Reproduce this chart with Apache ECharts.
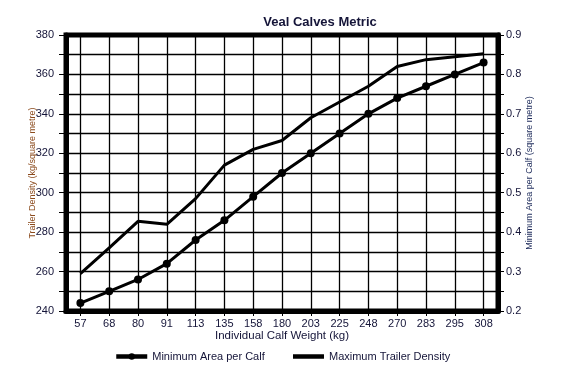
<!DOCTYPE html>
<html>
<head>
<meta charset="utf-8">
<script src="https://cdn.jsdelivr.net/npm/echarts@6/dist/echarts.min.js"></script>
<style>html,body{margin:0;padding:0;background:#fff}#c{width:571px;height:389px}</style>
</head>
<body>
<div id="c"></div>
<script>
var categories = ['57','68','80','91','113','135','158','180','203','225','248','270','283','295','308'];
var minAreaPerCalf = [0.22,0.25,0.28,0.32,0.38,0.43,0.49,0.55,0.60,0.65,0.70,0.74,0.77,0.80,0.83];
var maxTrailerDensity = [259,272,285.5,284,297,314,322,326.5,338,346,354,364,367.5,369,370.5];

var navy = '#141438';
var chart = echarts.init(document.getElementById('c'), null, {renderer:'canvas'});
chart.setOption({
  animation: false,
  title: {
    text: 'Veal Calves Metric', left: 315, top: 11, textAlign: 'center',
    textStyle: {fontFamily: 'Liberation Sans', fontSize: 13, fontWeight: 'bold', color: navy}
  },
  legend: {
    left: 109, top: 346, itemGap: 26, itemWidth: 31, itemHeight: 8,
    lineStyle: {width: 4.5},
    textStyle: {fontFamily: 'Liberation Sans', fontSize: 11, color: navy},
    data: [{name: 'Minimum Area per Calf'}, {name: 'Maximum Trailer Density', itemStyle: {opacity: 0}}]
  },
  grid: {left: 66, right: 73, top: 35, bottom: 78, show: true, borderColor: '#000', borderWidth: 5, containLabel: false, z: 10},
  xAxis: {
    type: 'category', data: categories,
    name: 'Individual Calf Weight (kg)', nameLocation: 'middle', nameGap: 19, nameMoveOverlap: false,
    nameTextStyle: {fontFamily: 'Liberation Sans', fontSize: 11.5, color: navy},
    axisLine: {show: true, lineStyle: {color: '#000', width: 5}},
    axisTick: {show: true, alignWithLabel: true, length: 5, lineStyle: {color: '#000', width: 1}},
    axisLabel: {fontFamily: 'Liberation Sans', fontSize: 11, color: navy, margin: 7},
    splitLine: {show: true, alignWithLabel: true, lineStyle: {color: '#000', width: 1.3}}
  },
  yAxis: [{
    type: 'value', min: 240, max: 380, interval: 10, position: 'left',
    name: 'Trailer Density (kg/square metre)', nameLocation: 'middle', nameGap: 29, nameRotate: 90, nameMoveOverlap: false,
    nameTextStyle: {fontFamily: 'Liberation Sans', fontSize: 9, color: '#8b4a1c'},
    axisLine: {show: true, lineStyle: {color: '#000', width: 5}},
    axisTick: {show: true, length: 7, lineStyle: {color: '#000', width: 1}},
    axisLabel: {fontFamily: 'Liberation Sans', fontSize: 11, color: navy, margin: 12,
      formatter: function (v) { return v % 20 === 0 ? String(v) : ''; }},
    splitLine: {show: true, lineStyle: {color: '#000', width: 1.3}}
  }, {
    type: 'value', min: 0.2, max: 0.9, interval: 0.05, position: 'right',
    name: 'Minimum Area per Calf (square metre)', nameLocation: 'middle', nameGap: 27, nameRotate: 90, nameMoveOverlap: false,
    nameTextStyle: {fontFamily: 'Liberation Sans', fontSize: 9, color: '#1c2a5a'},
    axisLine: {show: true, lineStyle: {color: '#000', width: 5}},
    axisTick: {show: true, length: 6, lineStyle: {color: '#000', width: 1}},
    axisLabel: {fontFamily: 'Liberation Sans', fontSize: 11, color: navy, margin: 8,
      formatter: function (v) { var k = Math.round(v * 100); return k % 10 === 0 ? (k / 100).toFixed(1) : ''; }},
    splitLine: {show: false}
  }],
  series: [{
    name: 'Minimum Area per Calf', type: 'line', yAxisIndex: 1, data: minAreaPerCalf,
    symbol: 'circle', symbolSize: 8, showAllSymbol: true,
    lineStyle: {color: '#000', width: 3}, itemStyle: {color: '#000'}
  }, {
    name: 'Maximum Trailer Density', type: 'line', yAxisIndex: 0, data: maxTrailerDensity,
    symbol: 'none', lineStyle: {color: '#000', width: 3}, itemStyle: {color: '#000'}
  }]
});
</script>
</body>
</html>
